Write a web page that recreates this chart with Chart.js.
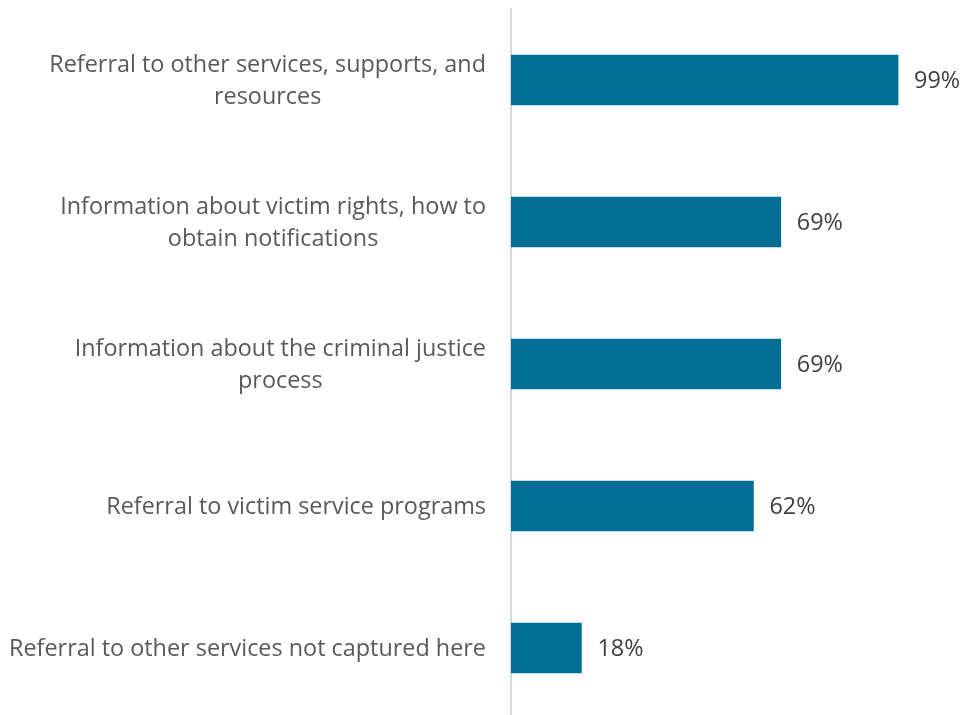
<!DOCTYPE html>
<html>
<head>
<meta charset="utf-8">
<script src="https://cdn.jsdelivr.net/npm/chart.js@4"></script>
<style>
  html, body { margin: 0; padding: 0; background: #fff; overflow: hidden; }
  #wrap { width: 963px; height: 719px; position: relative; }
</style>
</head>
<body>
<div id="wrap"><canvas id="servicesChart"></canvas></div>
<script>
// Categorias (cada uma quebrada em linhas) e percentuais
const categories = [
    ['Referral to other services, supports, and', 'resources'],
    ['Information about victim rights, how to', 'obtain notifications'],
    ['Information about the criminal justice', 'process'],
    ['Referral to victim service programs'],
    ['Referral to other services not captured here']
];
const percentValues = [99, 69, 69, 62, 18];

const FONT = '23.4px "Open Sans"';

// Rótulos das categorias: bloco alinhado à direita, linhas centralizadas entre si
const categoryLabels = {
    id: 'categoryLabels',
    afterDraw(chart) {
        const { ctx } = chart;
        const yScale = chart.scales.y;
        const rightEdge = yScale.right - 25;
        const lineHeight = 32;
        ctx.save();
        ctx.font = FONT;
        ctx.fillStyle = '#595959';
        ctx.textAlign = 'center';
        ctx.textBaseline = 'middle';
        categories.forEach((lines, i) => {
            const maxWidth = Math.max(...lines.map(l => ctx.measureText(l).width));
            const cx = rightEdge - maxWidth / 2;
            const cy = yScale.getPixelForTick(i) + 1;
            const startY = cy - (lines.length - 1) * lineHeight / 2;
            lines.forEach((line, j) => ctx.fillText(line, cx, startY + j * lineHeight));
        });
        ctx.restore();
    }
};

// Valor ao lado de cada barra
const valueLabels = {
    id: 'valueLabels',
    afterDatasetsDraw(chart) {
        const { ctx } = chart;
        const meta = chart.getDatasetMeta(0);
        ctx.save();
        ctx.font = FONT;
        ctx.fillStyle = '#404040';
        ctx.textAlign = 'left';
        ctx.textBaseline = 'middle';
        meta.data.forEach((bar, i) => {
            ctx.fillText(percentValues[i] + '%', bar.x + 16, bar.y + 1);
        });
        ctx.restore();
    }
};

const ctx = document.getElementById('servicesChart').getContext('2d');

new Chart(ctx, {
    type: 'bar',
    data: {
        labels: categories.map(l => l.join(' ')),
        datasets: [{
            data: percentValues,
            backgroundColor: '#006E95',
            barThickness: 50
        }]
    },
    options: {
        indexAxis: 'y',
        responsive: true,
        maintainAspectRatio: false,
        animation: false,
        layout: { padding: { top: 9, right: 61, bottom: 0, left: 0 } },
        scales: {
            x: {
                display: false,
                min: 0,
                max: 100
            },
            y: {
                grid: { display: false, drawTicks: false },
                border: { display: true, color: '#d9d9d9', width: 2 },
                ticks: { display: false },
                afterFit(scale) {
                    scale.width = 511;
                    scale.paddingTop = 0;
                    scale.paddingBottom = 0;
                }
            }
        },
        plugins: {
            legend: { display: false },
            tooltip: { enabled: false }
        }
    },
    plugins: [valueLabels, categoryLabels]
});
</script>
</body>
</html>
